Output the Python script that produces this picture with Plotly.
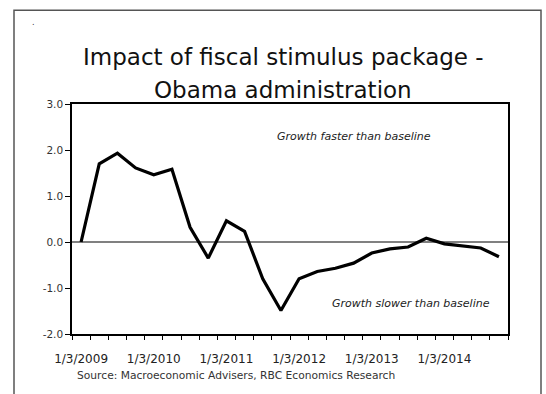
import plotly.graph_objects as go

# Quarterly impact on GDP growth (percentage points), 2009Q1 - 2014Q4
quarters = [
    "2009Q1", "2009Q2", "2009Q3", "2009Q4",
    "2010Q1", "2010Q2", "2010Q3", "2010Q4",
    "2011Q1", "2011Q2", "2011Q3", "2011Q4",
    "2012Q1", "2012Q2", "2012Q3", "2012Q4",
    "2013Q1", "2013Q2", "2013Q3", "2013Q4",
    "2014Q1", "2014Q2", "2014Q3", "2014Q4",
]
impact = [
    0.00, 1.70, 1.93, 1.61, 1.46, 1.58, 0.32, -0.35,
    0.46, 0.23, -0.80, -1.49, -0.80, -0.64, -0.57, -0.46,
    -0.24, -0.15, -0.11, 0.08, -0.04, -0.08, -0.13, -0.32,
]
year_labels = ["1/3/2009", "1/3/2010", "1/3/2011", "1/3/2012", "1/3/2013", "1/3/2014"]
year_positions = [0, 4, 8, 12, 16, 20]
y_ticks = [-2, -1, 0, 1, 2, 3]

FONT = "DejaVu Sans"
x_idx = list(range(len(quarters)))

fig = go.Figure()
fig.add_trace(go.Scatter(
    x=x_idx, y=impact, mode="lines",
    line=dict(color="#000000", width=3.2),
    customdata=quarters, hoverinfo="skip", showlegend=False,
))

fig.update_layout(
    width=546, height=394,
    margin=dict(l=72, r=38, t=104, b=59.5),
    paper_bgcolor="white", plot_bgcolor="white",
    showlegend=False,
    xaxis=dict(
        range=[-0.5, len(quarters) - 0.5],
        tickmode="array", tickvals=year_positions, ticktext=year_labels,
        ticks="", showgrid=False, zeroline=False,
        showline=True, linecolor="#000000", linewidth=1.5, mirror=True,
        tickfont=dict(family=FONT, size=12, color="#222222"),
        ticklabelstandoff=13,
        minor=dict(ticks="outside", ticklen=4, tickwidth=1, tickcolor="#000000",
                   tickmode="linear", tick0=-0.5, dtick=1, showgrid=False),
    ),
    yaxis=dict(
        range=[-2, 3], tickmode="array", tickvals=y_ticks,
        ticktext=[f"{v:.1f}" for v in y_ticks],
        ticks="outside", ticklen=5, tickwidth=1, tickcolor="#000000",
        showgrid=False, zeroline=True, zerolinecolor="#808080", zerolinewidth=1.6,
        showline=True, linecolor="#000000", linewidth=1.5, mirror=True,
        tickfont=dict(family=FONT, size=10.5, color="#333333"),
    ),
)

# outer frame around the whole exhibit
fig.add_shape(type="rect", xref="paper", yref="paper",
              x0=(14 - 72) / 436, x1=(541 - 72) / 436,
              y0=-0.3, y1=(334.5 - 10) / 230.5,
              line=dict(color="#555555", width=1.5), fillcolor="rgba(0,0,0,0)",
              layer="below")

def px_x(px):
    return (px - 72) / 436

def px_y(py):
    return (334.5 - py) / 230.5

annotations = [
    dict(text="Impact of fiscal stimulus package -", x=px_x(283), y=px_y(57),
         font=dict(family=FONT, size=23, color="#111111")),
    dict(text="Obama administration", x=px_x(283), y=px_y(90),
         font=dict(family=FONT, size=23, color="#111111")),
    dict(text="<i>Growth faster than baseline</i>", x=px_x(354), y=px_y(137),
         font=dict(family=FONT, size=11, color="#222222")),
    dict(text="<i>Growth slower than baseline</i>", x=px_x(411), y=px_y(304),
         font=dict(family=FONT, size=11, color="#222222")),
    dict(text="Source: Macroeconomic Advisers, RBC Economics Research",
         x=px_x(75), y=px_y(376), xanchor="left",
         font=dict(family=FONT, size=10.7, color="#333333")),
    dict(text=".", x=px_x(33), y=px_y(22),
         font=dict(family=FONT, size=8, color="#333333")),
]
for a in annotations:
    a.setdefault("xanchor", "center")
    fig.add_annotation(xref="paper", yref="paper", showarrow=False,
                       yanchor="middle", **a)

fig.write_html("out.html")
